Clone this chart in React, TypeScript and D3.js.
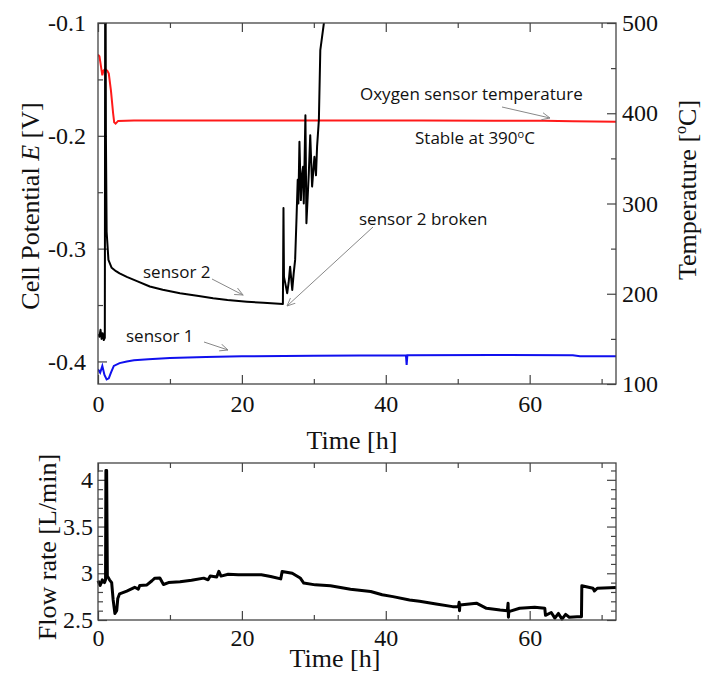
import { useEffect, useRef } from "react";
import * as d3 from "d3";

// sensor 1 cell potential [h, V]
const sensor1: [number, number][] = [
	[0, -0.407], [0.3, -0.41], [0.6, -0.404], [0.9, -0.412], [1.2, -0.416],
	[1.5, -0.415], [1.8, -0.41], [2.2, -0.404], [3, -0.4015], [4, -0.4],
	[5, -0.399], [7, -0.398], [10, -0.397], [15, -0.396], [20, -0.3955],
	[30, -0.395], [42.8, -0.3945], [42.9, -0.403], [43.0, -0.3945],
	[55, -0.3943], [66, -0.3945], [67, -0.3955], [72, -0.3955],
];

// sensor 2 cell potential [h, V]
const sensor2: [number, number][] = [
	[0, -0.376], [0.2, -0.378], [0.35, -0.372], [0.5, -0.38], [0.65, -0.375],
	[0.8, -0.381], [0.95, -0.379], [1.0, -0.05], [1.05, -0.05], [1.1, -0.2],
	[1.2, -0.285], [1.45, -0.31], [1.9, -0.317], [2.5, -0.32], [3, -0.322],
	[4, -0.325], [5.5, -0.329], [7.2, -0.3336], [9, -0.3365], [11.4, -0.3395],
	[14, -0.342], [16, -0.344], [18, -0.3455], [20.7, -0.347], [23, -0.348],
	[25.7, -0.349], [25.78, -0.264], [25.85, -0.325], [26.04, -0.331],
	[26.3, -0.3395], [26.5, -0.33], [26.7, -0.316], [27.0, -0.3366],
	[27.2, -0.322], [27.4, -0.31], [27.6, -0.2717], [27.76, -0.239],
	[27.85, -0.26], [28.0, -0.2053], [28.2, -0.257], [28.35, -0.235],
	[28.5, -0.2275], [28.6, -0.26], [28.83, -0.1817], [28.97, -0.2775],
	[29.3, -0.2333], [29.5, -0.1994], [29.76, -0.245], [30.08, -0.2186],
	[30.3, -0.235], [30.45, -0.2097], [30.7, -0.186], [30.9, -0.124],
	[31.4, -0.1], [31.8, -0.06],
];

// oxygen sensor temperature [h, degC]
const temperature: [number, number][] = [
	[0, 465], [0.2, 463], [0.45, 450], [0.6, 442], [0.75, 447], [1.0, 449],
	[1.3, 447], [1.5, 444], [1.8, 425], [2.1, 400], [2.25, 390], [2.45, 388.5],
	[2.8, 391.5], [5, 392], [15, 392], [30, 392], [45, 392], [55, 391.8],
	[62, 391.6], [66, 391], [72, 390.5],
];

// flow rate [h, L/min]
const flowRate: [number, number][] = [
	[0, 2.92], [0.3, 2.87], [0.6, 2.93], [0.9, 2.9], [1.05, 2.93], [1.1, 4.1],
	[1.2, 4.1], [1.3, 2.97], [1.6, 2.93], [1.9, 2.9], [2.1, 2.72], [2.35, 2.57],
	[2.6, 2.6], [2.75, 2.73], [3, 2.78], [4, 2.81], [5.1, 2.85], [5.6, 2.83],
	[5.8, 2.87], [6.8, 2.875], [7.5, 2.92], [7.9, 2.948], [8.6, 2.95],
	[9.1, 2.88], [9.8, 2.9], [11.4, 2.91], [13, 2.925], [14.7, 2.948],
	[15.3, 2.93], [15.6, 2.97], [16.5, 2.96], [16.8, 3.02], [17.1, 2.97],
	[18.1, 2.99], [19.5, 2.985], [22.7, 2.984], [24, 2.966], [25.4, 2.94],
	[25.6, 3.02], [27, 3.0], [28.1, 2.95], [28.6, 2.895], [30.2, 2.876],
	[32.3, 2.866], [35.1, 2.83], [37.9, 2.805], [39.5, 2.77], [41, 2.75],
	[43.3, 2.715], [44.7, 2.7], [47, 2.672], [49.3, 2.643], [50.1, 2.645],
	[50.2, 2.69], [50.25, 2.6], [50.3, 2.66], [52.6, 2.68], [54, 2.625],
	[55.9, 2.607], [56.9, 2.6], [57, 2.68], [57.05, 2.53], [57.1, 2.59],
	[58.6, 2.626], [60.7, 2.636], [62.1, 2.626], [62.2, 2.55], [63, 2.58],
	[63.5, 2.52], [64, 2.57], [64.5, 2.51], [65, 2.56], [65.5, 2.53],
	[66.6, 2.535], [67.2, 2.535], [67.25, 2.866], [68.8, 2.84], [69, 2.81],
	[69.4, 2.84], [72, 2.847],
];

const timeLabels = [0, 20, 40, 60];
const timeMinor = [10, 30, 50, 70];
const potentialLabels = [-0.4, -0.3, -0.2, -0.1];
const potentialMinor = [-0.35, -0.25, -0.15];
const temperatureLabels = [100, 200, 300, 400, 500];
const temperatureMinor = [150, 250, 350, 450];
const flowLabels = [2.5, 3, 3.5, 4];
const flowMinor = [2.6, 2.7, 2.8, 2.9, 3.1, 3.2, 3.3, 3.4, 3.6, 3.7, 3.8, 3.9, 4.1];

const SERIF = "'Liberation Serif', 'Times New Roman', serif";
const SANS = "'Open Sans', 'Noto Sans', sans-serif";

export default function App() {
	const svgRef = useRef<SVGSVGElement>(null);

	useEffect(() => {
		if (!svgRef.current) return;
		const svg = d3.select(svgRef.current);
		svg.selectAll("*").remove();

		const x = d3.scaleLinear().domain([0, 72]).range([98, 616]);
		const yE = d3.scaleLinear().domain([-0.42, -0.1]).range([384, 23]);
		const yT = d3.scaleLinear().domain([100, 500]).range([384, 23]);
		const yF = d3.scaleLinear().domain([2.5, 4.18]).range([620, 463]);

		const defs = svg.append("defs");
		defs
			.append("clipPath")
			.attr("id", "topclip")
			.append("rect")
			.attr("x", 98)
			.attr("y", 23)
			.attr("width", 518)
			.attr("height", 361);
		defs
			.append("marker")
			.attr("id", "arrow")
			.attr("viewBox", "0 0 10 10")
			.attr("refX", 9)
			.attr("refY", 5)
			.attr("markerWidth", 9)
			.attr("markerHeight", 9)
			.attr("markerUnits", "userSpaceOnUse")
			.attr("orient", "auto")
			.append("path")
			.attr("d", "M0,1 L9,5 L0,9")
			.attr("fill", "none")
			.attr("stroke", "#888")
			.attr("stroke-width", 1);

		// style helper for the axes: no domain line, gray ticks, serif labels
		const styleAxis = (g: any, size = 24) => {
			g.select(".domain").remove();
			g.selectAll("line").attr("stroke", "#444").attr("stroke-width", 1.2);
			g.selectAll("text")
				.attr("fill", "#111")
				.style("font-family", SERIF)
				.style("font-size", `${size}px`);
		};
		const noLabel = () => "";

		// ---------- top panel ----------
		const top = svg.append("g");

		top.append("g")
			.attr("transform", "translate(0,384)")
			.call(d3.axisBottom(x).tickValues(timeLabels).tickSize(-9).tickPadding(11).tickFormat(d3.format("d")))
			.call(styleAxis);
		top.append("g")
			.attr("transform", "translate(0,384)")
			.call(d3.axisBottom(x).tickValues(timeMinor).tickSize(-5).tickFormat(noLabel))
			.call(styleAxis);
		top.append("g")
			.attr("transform", "translate(0,23)")
			.call(d3.axisTop(x).tickValues(timeLabels).tickSize(-9).tickFormat(noLabel))
			.call(styleAxis);
		top.append("g")
			.attr("transform", "translate(0,23)")
			.call(d3.axisTop(x).tickValues(timeMinor).tickSize(-5).tickFormat(noLabel))
			.call(styleAxis);
		top.append("g")
			.attr("transform", "translate(98,0)")
			.call(d3.axisLeft(yE).tickValues(potentialLabels).tickSize(-9).tickPadding(12).tickFormat((d: any) => (+d).toFixed(1)))
			.call(styleAxis);
		top.append("g")
			.attr("transform", "translate(98,0)")
			.call(d3.axisLeft(yE).tickValues(potentialMinor).tickSize(-5).tickFormat(noLabel))
			.call(styleAxis);
		top.append("g")
			.attr("transform", "translate(616,0)")
			.call(d3.axisRight(yT).tickValues(temperatureLabels).tickSize(-9).tickPadding(6).tickFormat(d3.format("d")))
			.call(styleAxis);
		top.append("g")
			.attr("transform", "translate(616,0)")
			.call(d3.axisRight(yT).tickValues(temperatureMinor).tickSize(-5).tickFormat(noLabel))
			.call(styleAxis);

		const plot = top.append("g").attr("clip-path", "url(#topclip)");
		const lineE = d3.line<[number, number]>().x((d) => x(d[0])).y((d) => yE(d[1]));
		const lineT = d3.line<[number, number]>().x((d) => x(d[0])).y((d) => yT(d[1]));

		plot.append("path")
			.attr("d", lineT(temperature))
			.attr("fill", "none")
			.attr("stroke", "#ff1a1a")
			.attr("stroke-width", 2);
		plot.append("path")
			.attr("d", lineE(sensor1))
			.attr("fill", "none")
			.attr("stroke", "#1010ee")
			.attr("stroke-width", 2);
		plot.append("path")
			.attr("d", lineE(sensor2))
			.attr("fill", "none")
			.attr("stroke", "#000")
			.attr("stroke-width", 2)
			.attr("stroke-linejoin", "round");

		top.append("rect")
			.attr("x", 98)
			.attr("y", 23)
			.attr("width", 518)
			.attr("height", 361)
			.attr("fill", "none")
			.attr("stroke", "#444")
			.attr("stroke-width", 1.3);

		// axis titles
		const leftTitle = top.append("text")
			.attr("transform", "translate(39,206) rotate(-90)")
			.attr("text-anchor", "middle")
			.style("font-family", SERIF)
			.style("font-size", "26px")
			.attr("fill", "#111");
		leftTitle.append("tspan").text("Cell Potential ");
		leftTitle.append("tspan").style("font-style", "italic").text("E");
		leftTitle.append("tspan").text(" [V]");

		const rightTitle = top.append("text")
			.attr("transform", "translate(696,190) rotate(-90)")
			.attr("text-anchor", "middle")
			.style("font-family", SERIF)
			.style("font-size", "26px")
			.attr("fill", "#111");
		rightTitle.append("tspan").text("Temperature [");
		rightTitle.append("tspan").attr("dy", -10).style("font-size", "16px").text("o");
		rightTitle.append("tspan").attr("dy", 10).text("C]");

		top.append("text")
			.attr("x", 352)
			.attr("y", 449)
			.attr("text-anchor", "middle")
			.style("font-family", SERIF)
			.style("font-size", "26px")
			.attr("fill", "#111")
			.text("Time [h]");

		// annotations
		const note = (tx: number, ty: number, label: string) =>
			top.append("text")
				.attr("x", tx)
				.attr("y", ty)
				.style("font-family", SANS)
				.style("font-size", "17px")
				.attr("fill", "#111")
				.text(label);
		const arrow = (x1: number, y1: number, x2: number, y2: number) =>
			top.append("line")
				.attr("x1", x1)
				.attr("y1", y1)
				.attr("x2", x2)
				.attr("y2", y2)
				.attr("stroke", "#888")
				.attr("stroke-width", 1)
				.attr("marker-end", "url(#arrow)");

		note(360, 100, "Oxygen sensor temperature");
		arrow(502, 107, 550, 118);
		const stable = top.append("text")
			.attr("x", 415)
			.attr("y", 144)
			.style("font-family", SANS)
			.style("font-size", "17px")
			.attr("fill", "#111");
		stable.append("tspan").text("Stable at 390");
		stable.append("tspan").attr("dy", -6).style("font-size", "11px").text("o");
		stable.append("tspan").attr("dy", 6).text("C");

		note(359, 225, "sensor 2 broken");
		arrow(373, 227, 287, 306);
		note(143, 278, "sensor 2");
		arrow(212, 279, 243, 295);
		note(126, 342, "sensor 1");
		arrow(204, 342, 228, 350);

		// ---------- bottom panel ----------
		const bot = svg.append("g");
		bot.append("g")
			.attr("transform", "translate(0,620)")
			.call(d3.axisBottom(x).tickValues(timeLabels).tickSize(-9).tickPadding(9).tickFormat(d3.format("d")))
			.call(styleAxis);
		bot.append("g")
			.attr("transform", "translate(0,620)")
			.call(d3.axisBottom(x).tickValues(timeMinor).tickSize(-5).tickFormat(noLabel))
			.call(styleAxis);
		bot.append("g")
			.attr("transform", "translate(0,463)")
			.call(d3.axisTop(x).tickValues(timeLabels).tickSize(-9).tickFormat(noLabel))
			.call(styleAxis);
		bot.append("g")
			.attr("transform", "translate(0,463)")
			.call(d3.axisTop(x).tickValues(timeMinor).tickSize(-5).tickFormat(noLabel))
			.call(styleAxis);
		bot.append("g")
			.attr("transform", "translate(98,0)")
			.call(d3.axisLeft(yF).tickValues(flowLabels).tickSize(-9).tickPadding(5).tickFormat(d3.format("")))
			.call(styleAxis);
		bot.append("g")
			.attr("transform", "translate(98,0)")
			.call(d3.axisLeft(yF).tickValues(flowMinor).tickSize(-5).tickFormat(noLabel))
			.call(styleAxis);
		bot.append("g")
			.attr("transform", "translate(616,0)")
			.call(d3.axisRight(yF).tickValues(flowLabels).tickSize(-9).tickFormat(noLabel))
			.call(styleAxis);
		bot.append("g")
			.attr("transform", "translate(616,0)")
			.call(d3.axisRight(yF).tickValues(flowMinor).tickSize(-5).tickFormat(noLabel))
			.call(styleAxis);

		const lineF = d3.line<[number, number]>().x((d) => x(d[0])).y((d) => yF(d[1]));
		bot.append("path")
			.attr("d", lineF(flowRate))
			.attr("fill", "none")
			.attr("stroke", "#000")
			.attr("stroke-width", 3)
			.attr("stroke-linejoin", "round");

		bot.append("rect")
			.attr("x", 98)
			.attr("y", 463)
			.attr("width", 518)
			.attr("height", 157)
			.attr("fill", "none")
			.attr("stroke", "#444")
			.attr("stroke-width", 1.3);

		bot.append("text")
			.attr("transform", "translate(56,547) rotate(-90)")
			.attr("text-anchor", "middle")
			.style("font-family", SERIF)
			.style("font-size", "26px")
			.attr("fill", "#111")
			.text("Flow rate [L/min]");

		bot.append("text")
			.attr("x", 335)
			.attr("y", 667)
			.attr("text-anchor", "middle")
			.style("font-family", SERIF)
			.style("font-size", "26px")
			.attr("fill", "#111")
			.text("Time [h]");
	}, []);

	return (
		<svg
			ref={svgRef}
			width={703}
			height={679}
			style={{ position: "absolute", left: 0, top: 0, background: "#fff" }}
		/>
	);
}
